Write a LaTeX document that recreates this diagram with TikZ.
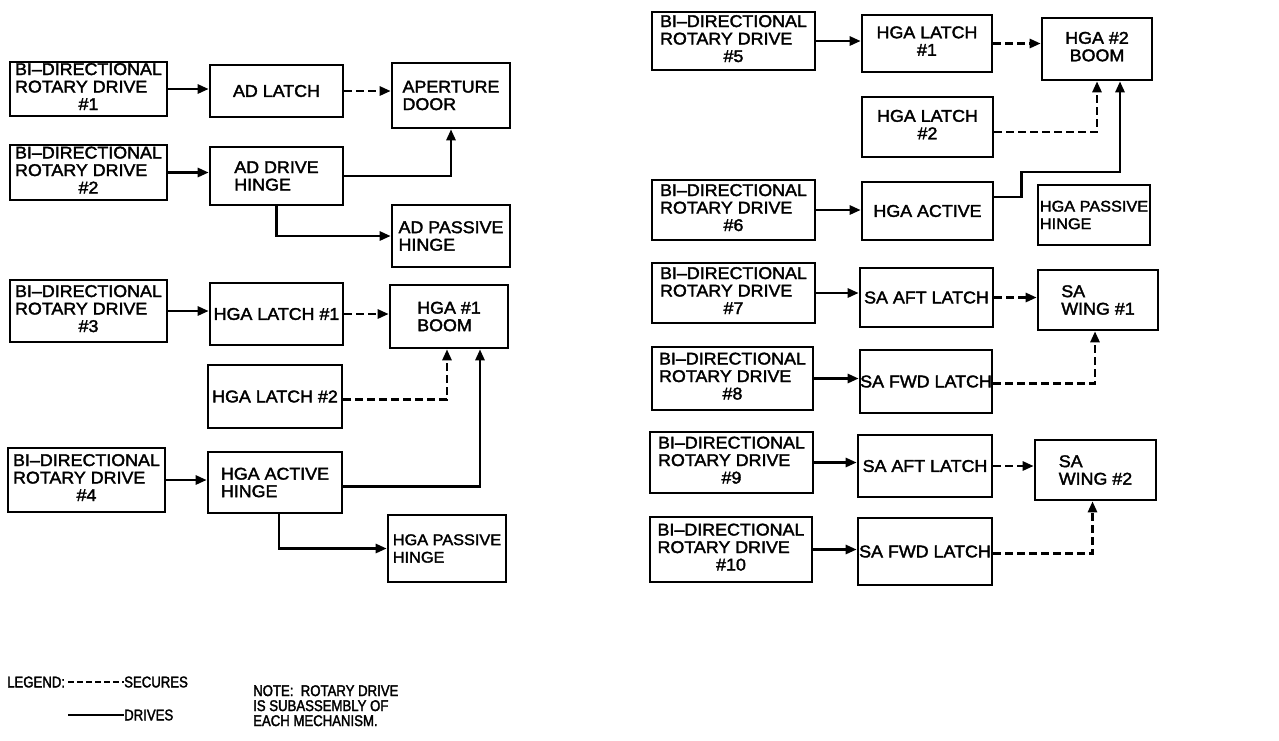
\documentclass[tikz,border=0pt]{standalone}
\usepackage{fontspec}
\setmainfont{Liberation Sans}[FakeStretch=1.05, FakeBold=2]
\newfontfamily\legfont{Liberation Sans}[FakeStretch=0.85, FakeBold=2]
\usetikzlibrary{arrows.meta}
\tikzset{blk/.style 2 args={draw, line width=2.6pt, inner sep=0pt, minimum width=#1pt, minimum height=#2pt, font=\fontsize{17}{17.5}\selectfont, align=left}}
\tikzset{drives/.style={line width=2.6pt, -{Triangle[length=11pt,width=9pt]}}}
\tikzset{secures/.style={drives, dash pattern=on 8pt off 4pt}}
\tikzset{legtext/.style={inner sep=0pt, font=\legfont\fontsize{15.5}{15}\selectfont, align=left}}
\tikzset{narrow/.style={font=\fontsize{15.5}{17.5}\selectfont}}
\newcommand{\rotdrive}[1]{\begin{tabular}{@{}l@{}}BI--DIRECTIONAL\\ROTARY DRIVE\\\multicolumn{1}{@{}c@{}}{\##1}\end{tabular}}

\begin{document}
\begin{tikzpicture}[x=1pt, y=-1pt]
\useasboundingbox (0,0) rectangle (1279,740);

% Left column: aperture door
\node[blk={157}{54}] (D1)    at (88.5,89)  {\rotdrive{1}};
\node[blk={133}{52}] (ADL)   at (276.5,91) {AD LATCH};
\node[blk={118}{65}] (DOOR)  at (451,95.5) {APERTURE\\DOOR};
\node[blk={157}{55}] (D2)    at (88.5,172.5) {\rotdrive{2}};
\node[blk={133}{58}] (ADH)   at (276.5,176)  {AD DRIVE\\HINGE};
\node[blk={118}{62}] (ADP)   at (451,236)    {AD PASSIVE\\HINGE};

% Left column: HGA #1 boom
\node[blk={157}{62}] (D3)    at (88.5,311)   {\rotdrive{3}};
\node[blk={133}{62}] (HLi)   at (276.5,314)  {HGA LATCH \#1};
\node[blk={118}{63}] (BOOMi) at (449,316.5)  {HGA \#1\\BOOM};
\node[blk={134}{63}] (HLii)  at (275,396.5)  {HGA LATCH \#2};
\node[blk={157}{64}] (D4)    at (86.5,480)   {\rotdrive{4}};
\node[blk={134}{61}] (HAH)   at (275,482.5)  {HGA ACTIVE\\HINGE};
\node[blk={118}{67}, narrow] (HPH) at (447,548.5) {HGA PASSIVE\\HINGE};

% Right column: HGA #2 boom
\node[blk={163}{58}] (D5)     at (733.5,41)  {\rotdrive{5}};
\node[blk={130}{57}] (RHLi)   at (927,43.5)  {\begin{tabular}{@{}c@{}}HGA LATCH\\\#1\end{tabular}};
\node[blk={110}{62}] (BOOMii) at (1097,49)   {\begin{tabular}{@{}c@{}}HGA \#2\\BOOM\end{tabular}};
\node[blk={131}{60}] (RHLii)  at (927.5,127) {\begin{tabular}{@{}c@{}}HGA LATCH\\\#2\end{tabular}};
\node[blk={163}{60}] (D6)     at (733.5,210) {\rotdrive{6}};
\node[blk={131}{58}] (RHA)    at (927.5,211) {HGA ACTIVE};
\node[blk={112}{60}, narrow] (RHPH) at (1094,215) {HGA PASSIVE\\HINGE};

% Right column: solar array wings
\node[blk={163}{60}] (D7)     at (733.5,293)  {\rotdrive{7}};
\node[blk={133}{59}] (AFTi)   at (926.5,297.5){SA AFT LATCH};
\node[blk={120}{60}] (WINGi)  at (1098,300)   {SA\\WING \#1};
\node[blk={161}{63}] (D8)     at (732.5,378.5){\rotdrive{8}};
\node[blk={132}{63}] (FWDi)   at (926,381.5)  {SA FWD LATCH};
\node[blk={163}{61}] (D9)     at (731.5,462.5){\rotdrive{9}};
\node[blk={134}{62}] (AFTii)  at (925,466)    {SA AFT LATCH};
\node[blk={121}{60}] (WINGii) at (1095.5,470) {SA\\WING \#2};
\node[blk={162}{65}] (D10)    at (731,549.5)  {\rotdrive{10}};
\node[blk={134}{67}] (FWDii)  at (925,551.5)  {SA FWD LATCH};

% Drives
\draw[drives] (D1.east) -- (D1.east -| ADL.west);
\draw[drives] (D2.east) -- (D2.east -| ADH.west);
\draw[drives] (ADH.east) -| (DOOR.south);
\draw[drives] (ADH.south) |- (ADP.west);
\draw[drives] (D3.east) -- (D3.east -| HLi.west);
\draw[drives] (D4.east) -- (D4.east -| HAH.west);
\draw[drives] ([yshift=-4pt]HAH.east) -| ([xshift=31pt]BOOMi.south);
\draw[drives] ([xshift=4pt]HAH.south) |- (HPH.west);
\draw[drives] (D5.east) -- (D5.east -| RHLi.west);
\draw[drives] (D6.east) -- (D6.east -| RHA.west);
\draw[drives] ([yshift=14pt]RHA.east) -- ++(27,0) -- ++(0,-25) -| ([xshift=23pt]BOOMii.south);
\draw[drives] (D7.east) -- (D7.east -| AFTi.west);
\draw[drives] (D8.east) -- (D8.east -| FWDi.west);
\draw[drives] (D9.east) -- (D9.east -| AFTii.west);
\draw[drives] (D10.east) -- (D10.east -| FWDii.west);

% Secures
\draw[secures] (ADL.east) -- (ADL.east -| DOOR.west);
\draw[secures] (HLi.east) -- (HLi.east -| BOOMi.west);
\draw[secures] ([yshift=-3pt]HLii.east) -| ([xshift=-2pt]BOOMi.south);
\draw[secures] (RHLi.east) -- (RHLi.east -| BOOMii.west);
\draw[secures] ([yshift=-5pt]RHLii.east) -| (BOOMii.south);
\draw[secures] (AFTi.east) -- (AFTi.east -| WINGi.west);
\draw[secures] ([yshift=-2pt]FWDi.east) -| ([xshift=-3pt]WINGi.south);
\draw[secures] (AFTii.east) -- (AFTii.east -| WINGii.west);
\draw[secures] ([yshift=-2pt]FWDii.east) -| ([xshift=-3pt]WINGii.south);

% Legend and note
\node[legtext, anchor=west] (LEG) at (7,682)   {LEGEND:};
\node[legtext, anchor=west] (SEC) at (124,682) {SECURES};
\node[legtext, anchor=west] (DRV) at (124,715) {DRIVES};
\draw[line width=2.2pt, dash pattern=on 6pt off 3pt] ([xshift=3pt]LEG.east) -- (SEC.west);
\draw[line width=2.2pt] (SEC.west |- DRV.west) ++(-56,0) -- (DRV.west);
\node[legtext, anchor=north west] (NOTE) at (253,685) {NOTE:\ \ ROTARY DRIVE\\IS SUBASSEMBLY OF\\EACH MECHANISM.};

\end{tikzpicture}
\end{document}
